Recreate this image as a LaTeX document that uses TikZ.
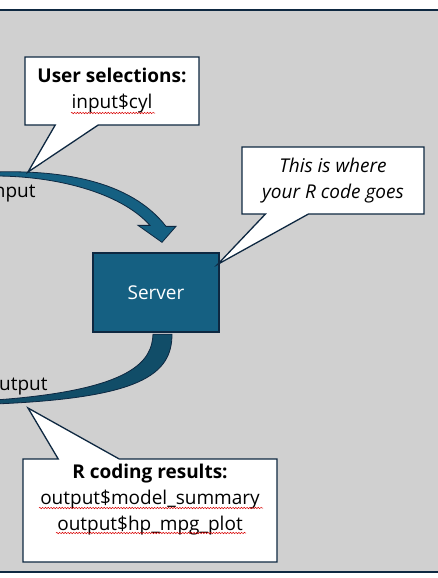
\documentclass[tikz,border=0pt]{standalone}
\usepackage{fontspec}
\setmainfont{Open Sans}
\usepackage{tikz}
\usetikzlibrary{calc,shapes.callouts,decorations.pathmorphing}
\definecolor{Accent}{RGB}{21,96,130}
\definecolor{Navy}{RGB}{14,40,65}
\definecolor{Panel}{RGB}{208,208,208}

\begin{document}
\begin{tikzpicture} [x=1pt,y=-1pt,
       text=black, thick,
       every node/.style={font=\fontsize{19}{26}\selectfont},
       callbox/.style 2 args = {rectangle callout, minimum width=#1, minimum height=#2,
                                inner sep=0pt, line width=1.3pt, draw=Navy, fill=white,
                                align=center},
       serverbox/.style = {rectangle, minimum width=126pt, minimum height=79pt,
                           line width=1.3pt, draw=Navy, fill=Accent, text=white},
       blockarrow/.style = {fill=#1, draw=Navy, line width=0.8pt},
       squiggle/.style = {red!85!black, line width=0.5pt, decorate,
                          decoration={snake, amplitude=0.7pt, segment length=2.8pt}}]
	%% Frame
	\useasboundingbox (0,0) rectangle (438,578);
	\clip (0,0) rectangle (438,578);
	\fill[white] (0,0) rectangle (438,578);
	\draw[fill=Panel, draw=Navy, line width=2pt] (-20,10) rectangle (460,572);

	%% Server and the two ends
	\node [serverbox] (server) at (156,292.5) {Server};
	\node [anchor=east, inner sep=0pt] (input) at (36,193) {Input};
	\node [anchor=east, inner sep=0pt] (output) at (48,385.5) {Output};

	%% Reference points for the block arrows and callouts
	\coordinate (in_top) at (-5,172);
	\coordinate (in_bot) at (-5,176);
	\coordinate (out_top) at (-5,400);
	\coordinate (out_bot) at (-5,404);
	\coordinate (tip_in) at (28,172);
	\coordinate (tip_out) at (28,408);
	\coordinate (tip_srv) at ($(server.north east)+(-2,12)$);

	%% Block arrows
	\filldraw [blockarrow=Accent] (in_top) .. controls (60,170) and (130,180) .. ($(server.north)+(10,-26)$)
	          -- ($(server.north)+(20,-26)$) -- ($(server.north)+(6,-10)$) -- ($(server.north)+(-18,-27)$)
	          -- ($(server.north)+(-6,-27)$) .. controls (120,192) and (55,176) .. (in_bot) -- cycle;
	\filldraw [blockarrow=Accent!80!black] ($(server.south)+(16,1.5)$) .. controls (172,375) and (140,398) .. (out_bot)
	          -- (out_top) .. controls (135,390) and (152,360) .. ($(server.south)+(-3,1.5)$) -- cycle;

	%% Callouts
	\node [callbox={174pt}{68pt}, callout absolute pointer={(tip_in)}, callout pointer width=43pt]
	      (selections) at (112,91) {\textbf{User selections:}\\input\$cyl};
	\node [callbox={182pt}{67pt}, callout absolute pointer={(tip_srv)}, callout pointer width=43pt,
	       font=\fontsize{19}{26}\selectfont\itshape]
	      (rcode) at (333,180.5) {This is where\\your R code goes};
	\node [callbox={254pt}{103pt}, callout absolute pointer={(tip_out)}, callout pointer width=61pt]
	      (results) at (150,510.5) {\textbf{R coding results:}\\output\$model\_summary\\output\$hp\_mpg\_plot\\\mbox{}};

	%% Spelling marks
	\draw [squiggle] ($(selections.center)+(-41,22)$) -- ($(selections.center)+(43,22)$);
	\draw [squiggle] ($(results.center)+(-111,-2.5)$) -- ($(results.center)+(113,-2.5)$);
	\draw [squiggle] ($(results.center)+(-94,22.5)$) -- ($(results.center)+(96,22.5)$);
\end{tikzpicture}
\end{document}
